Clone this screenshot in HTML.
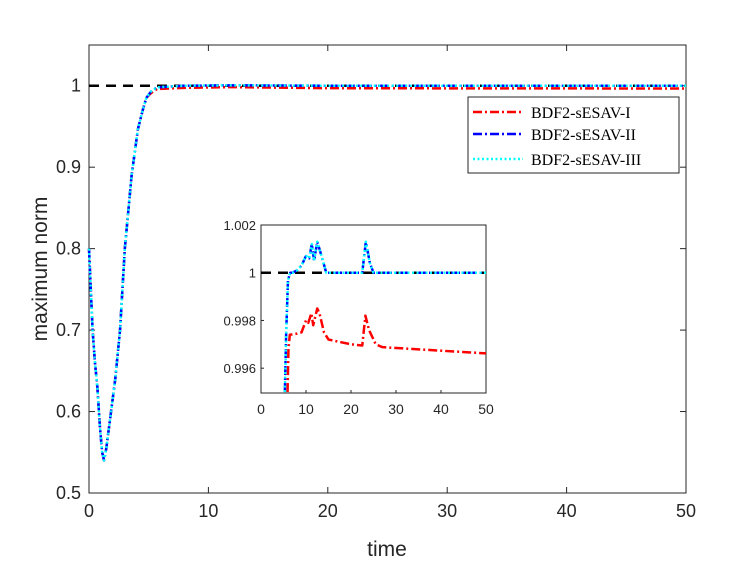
<!DOCTYPE html>
<html><head><meta charset="utf-8"><style>
body{margin:0;background:#fff;}
svg text{font-family:"Liberation Sans",sans-serif;fill:#262626;}
</style></head><body>
<svg width="747" height="561" xmlns="http://www.w3.org/2000/svg" id="chart">
<g id="main"></g>
<g id="inset"></g>
<g id="legend"></g>
</svg>
<script>
const mainT=[0,0.15,0.3,0.5,0.7,0.92,1.1,1.26,1.45,1.76,2.2,2.6,3.0,3.57,4.1,4.5,4.8,5.2,5.7,8,12,20,30,40,50];
const mainBlue=[0.8,0.75,0.7,0.66,0.63,0.58,0.55,0.54,0.555,0.59,0.64,0.7,0.8,0.89,0.947,0.97,0.985,0.993,0.998,1.0,1.0005,1.0,1.0,1.0,1.0];
const mainRed=[0.8,0.75,0.7,0.66,0.63,0.58,0.55,0.54,0.555,0.59,0.64,0.7,0.8,0.89,0.947,0.97,0.985,0.991,0.996,0.9974,0.9983,0.997,0.9968,0.9967,0.9966];
const xTicks=[0,10,20,30,40,50];
const yTicks=[0.5,0.6,0.7,0.8,0.9,1];
const yTickLabels=["0.5","0.6","0.7","0.8","0.9","1"];
const insT=[5.3,5.6,6.0,6.5,7,8,9,10,10.7,11.3,11.8,12.5,13.3,14.5,22.5,23.3,24.2,25,50];
const insBlue=[0.9950,0.9975,0.9997,1.0,1.0,1.0001,1.0003,1.0007,1.0006,1.0012,1.0005,1.0013,1.0008,1.0,1.0,1.0013,1.0004,1.0,1.0];
const insRT=[5.9,6.1,6.4,8,9,10,10.5,11.2,11.6,12.5,13,14,15,20,22.5,23.2,24,25.5,27,50];
const insRed=[0.9950,0.9968,0.9974,0.99745,0.9975,0.9980,0.9979,0.9983,0.9978,0.9985,0.9983,0.9975,0.9972,0.9970,0.99695,0.9982,0.9976,0.9970,0.99688,0.99662];
const insXTicks=[0,10,20,30,40,50];
const insYTicks=[0.996,0.998,1,1.002];
const insYLabels=["0.996","0.998","1","1.002"];
const NS="http://www.w3.org/2000/svg";
function mk(p,tag,a){const e=document.createElementNS(NS,tag);for(const k in a)e.setAttribute(k,a[k]);p.appendChild(e);return e;}
const M={x0:89,x1:686,y0:493,y1:45};
const mx=t=>M.x0+(t/50)*(M.x1-M.x0);
const my=v=>M.y0-(v-0.5)/0.55*(M.y0-M.y1);
const gm=document.getElementById('main');
const frame=mk(gm,'rect',{x:M.x0,y:M.y1,width:M.x1-M.x0,height:M.y0-M.y1,fill:'#fff',stroke:'#262626','stroke-width':1});


xTicks.forEach(t=>{mk(gm,'line',{x1:mx(t),x2:mx(t),y1:M.y0,y2:M.y0-6,stroke:'#262626'});mk(gm,'line',{x1:mx(t),x2:mx(t),y1:M.y1,y2:M.y1+6,stroke:'#262626'});
const tx=mk(gm,'text',{x:mx(t),y:M.y0+24,'text-anchor':'middle','font-size':'18'});tx.textContent=t;

});
yTicks.forEach((v,i)=>{mk(gm,'line',{x1:M.x0,x2:M.x0+6,y1:my(v),y2:my(v),stroke:'#262626'});mk(gm,'line',{x1:M.x1,x2:M.x1-6,y1:my(v),y2:my(v),stroke:'#262626'});
const tx=mk(gm,'text',{x:M.x0-8,y:my(v)+6,'text-anchor':'end','font-size':'18'});tx.textContent=yTickLabels[i];

});
const xl=mk(gm,'text',{x:387,y:556,'text-anchor':'middle','font-size':'21'});xl.textContent='time';


const yl=mk(gm,'text',{x:0,y:0,'text-anchor':'middle','font-size':'21',transform:'translate(47,269) rotate(-90)'});yl.textContent='maximum norm';


function poly(g,T,V,fx,fy,st,name){const l=mk(g,'polyline',Object.assign({points:T.map((t,i)=>fx(t)+','+fy(V[i])).join(' '),fill:'none','stroke-linejoin':'round'},st));

return l;}
poly(gm,[0,50],[1,1],mx,my,{stroke:'#000','stroke-width':2.5,'stroke-dasharray':'10 7'},'reference-line');
poly(gm,mainT,mainRed,mx,my,{stroke:'#f00','stroke-width':2.5,'stroke-dasharray':'9 3 2 3'},'series-sesav-i');
poly(gm,mainT,mainBlue,mx,my,{stroke:'#00f','stroke-width':2.5,'stroke-dasharray':'9 3 2 3'},'series-sesav-ii');
poly(gm,mainT,mainBlue,mx,my,{stroke:'#0ff','stroke-width':2.5,'stroke-dasharray':'2 2.5'},'series-sesav-iii');
const I={x0:261,x1:486,y0:393,y1:225};
const ix=t=>I.x0+(t/50)*(I.x1-I.x0);
const iy=v=>I.y0-(v-0.99496)/(1.002-0.99496)*(I.y0-I.y1);
const gi=document.getElementById('inset');
const ifr=mk(gi,'rect',{x:I.x0,y:I.y1,width:I.x1-I.x0,height:I.y0-I.y1,fill:'#fff',stroke:'#262626','stroke-width':1});


const cp=mk(gi,'clipPath',{id:'ic'});mk(cp,'rect',{x:I.x0,y:I.y1,width:I.x1-I.x0,height:I.y0-I.y1});
insXTicks.forEach(t=>{mk(gi,'line',{x1:ix(t),x2:ix(t),y1:I.y0,y2:I.y0-3,stroke:'#262626'});
const tx=mk(gi,'text',{x:ix(t),y:I.y0+21,'text-anchor':'middle','font-size':'14'});tx.textContent=t;

});
insYTicks.forEach((v,i)=>{mk(gi,'line',{x1:I.x0,x2:I.x0+3,y1:iy(v),y2:iy(v),stroke:'#262626'});
const tx=mk(gi,'text',{x:I.x0-5,y:iy(v)+5,'text-anchor':'end','font-size':'13'});tx.textContent=insYLabels[i];

});
const gc=mk(gi,'g',{'clip-path':'url(#ic)'});
poly(gc,[0,50],[1,1],ix,iy,{stroke:'#000','stroke-width':2.5,'stroke-dasharray':'10 7'},'inset-reference-line');
poly(gc,insRT,insRed,ix,iy,{stroke:'#f00','stroke-width':2.5,'stroke-dasharray':'9 3 2 3'},'inset-series-sesav-i');
poly(gc,insT,insBlue,ix,iy,{stroke:'#00f','stroke-width':2.5,'stroke-dasharray':'9 3 2 3'},'inset-series-sesav-ii');
poly(gc,insT,insBlue,ix,iy,{stroke:'#0ff','stroke-width':2.5,'stroke-dasharray':'2 2.5'},'inset-series-sesav-iii');
const gl=document.getElementById('legend');
const lb=mk(gl,'rect',{x:468,y:97,width:211,height:76,fill:'#fff',stroke:'#262626'});


const names=['BDF2-sESAV-I','BDF2-sESAV-II','BDF2-sESAV-III'];
const cols=['#f00','#00f','#0ff'];
const dashes=['9 3 2 3','9 3 2 3','2 2.5'];
[112,134,159].forEach((y,i)=>{const l=mk(gl,'line',{x1:473,x2:523,y1:y,y2:y,stroke:cols[i],'stroke-width':2.5,'stroke-dasharray':dashes[i]});


const t=mk(gl,'text',{x:531,y:y+6,'font-size':'16',style:'font-family:"Liberation Serif",serif;fill:#000'});t.textContent=names[i];

});
</script>
</body></html>
